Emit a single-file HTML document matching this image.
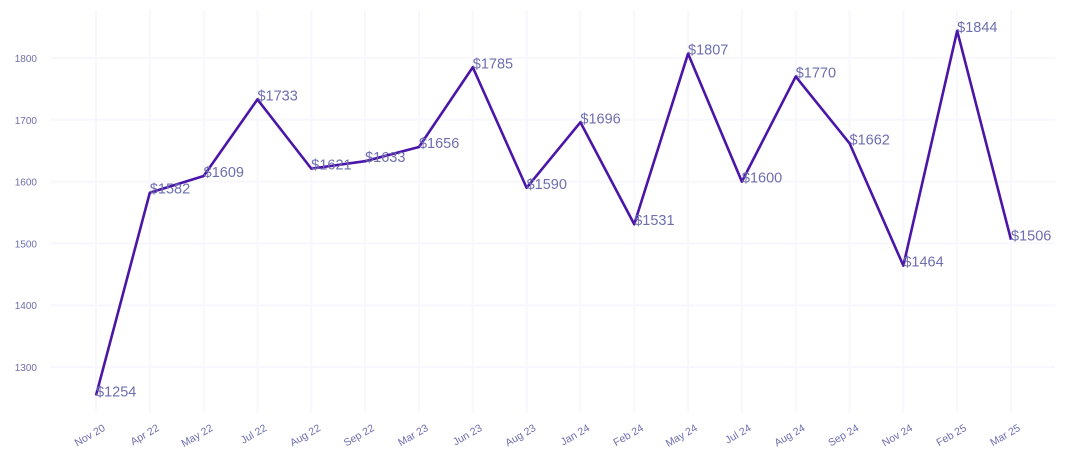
<!DOCTYPE html>
<html><head><meta charset="utf-8"><style>
body{margin:0;background:#fff;}
svg{display:block;font-family:"Liberation Sans",sans-serif;}
</style></head><body>
<svg id="chart" width="1070" height="465" viewBox="0 0 1070 465">
<g id="grid"></g>
<g id="yaxis"></g>
<g id="xaxis"></g>
<g id="series"></g>
</svg>
<script>
const categories=["Nov 20","Apr 22","May 22","Jul 22","Aug 22","Sep 22","Mar 23","Jun 23","Aug 23","Jan 24","Feb 24","May 24","Jul 24","Aug 24","Sep 24","Nov 24","Feb 25","Mar 25"];
const values=[1254,1582,1609,1733,1621,1633,1656,1785,1590,1696,1531,1807,1600,1770,1662,1464,1844,1506];
const yTicks=[1300,1400,1500,1600,1700,1800];
const NS="http://www.w3.org/2000/svg";
const x0=96,x1=1011;
function xs(i){return x0+(x1-x0)*i/(categories.length-1);}
function ys(v){return 58+(1800-v)*(367-58)/500;}
function mk(t,a,p){const e=document.createElementNS(NS,t);for(const k in a)e.setAttribute(k,a[k]);p.appendChild(e);return e;}
const grid=document.getElementById('grid'),ya=document.getElementById('yaxis'),xa=document.getElementById('xaxis'),se=document.getElementById('series');
yTicks.forEach(v=>{
 const l=mk('line',{x1:50,x2:1055,y1:ys(v),y2:ys(v),stroke:'#f7f7fd','stroke-width':2},grid);
 
 
 const t=mk('text',{x:37,y:ys(v)+4,'text-anchor':'end','font-size':10,fill:'#6e6eb0'},ya);
 t.textContent=v;
 
 
});
categories.forEach((c,i)=>{
 const x=xs(i);
 const l=mk('line',{x1:x,x2:x,y1:10,y2:413,stroke:'#f7f7fd','stroke-width':2},grid);
 
 
 const t=mk('text',{x:x+10,y:430,'text-anchor':'end','font-size':10.5,fill:'#6e6eb0',transform:`rotate(-30 ${x+10} 430)`},xa);
 t.textContent=c;
 
 
});
const pts=values.map((v,i)=>xs(i)+','+ys(v)).join(' ');
const pl=mk('polyline',{points:pts,fill:'none',stroke:'#4b16a8','stroke-width':2.6,'stroke-linejoin':'round'},se);


values.forEach((v,i)=>{
 const t=mk('text',{x:xs(i),y:ys(v)+1,'font-size':14.5,fill:'#6e6eb0'},se);
 t.textContent='$'+v;
 
 
});
</script>
</body></html>
